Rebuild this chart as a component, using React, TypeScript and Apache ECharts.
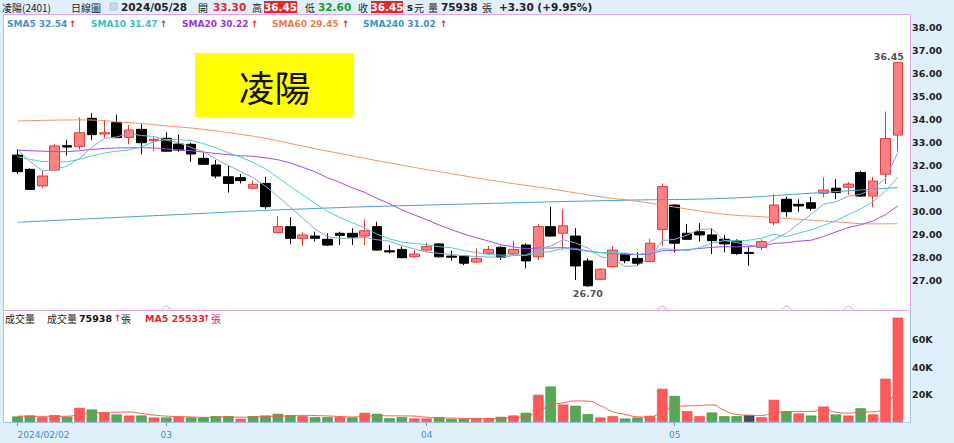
import React, { useEffect, useRef } from 'react';
import * as echarts from 'echarts';

const dates = [
  '2024/02/02','2024/02/05','2024/02/15','2024/02/16','2024/02/19','2024/02/20','2024/02/21','2024/02/22','2024/02/23','2024/02/26','2024/02/27','2024/02/29',
  '2024/03/01','2024/03/04','2024/03/05','2024/03/06','2024/03/07','2024/03/08','2024/03/11','2024/03/12','2024/03/13','2024/03/14','2024/03/15','2024/03/18','2024/03/19','2024/03/20','2024/03/21','2024/03/22','2024/03/25','2024/03/26','2024/03/27','2024/03/28','2024/03/29',
  '2024/04/01','2024/04/02','2024/04/03','2024/04/08','2024/04/09','2024/04/10','2024/04/11','2024/04/12','2024/04/15','2024/04/16','2024/04/17','2024/04/18','2024/04/19','2024/04/22','2024/04/23','2024/04/24','2024/04/25','2024/04/26','2024/04/29','2024/04/30',
  '2024/05/02','2024/05/03','2024/05/06','2024/05/07','2024/05/08','2024/05/09','2024/05/10','2024/05/13','2024/05/14','2024/05/15','2024/05/16','2024/05/17','2024/05/20','2024/05/21','2024/05/22','2024/05/23','2024/05/24','2024/05/27','2024/05/28'
];

const opens = [
  32.43, 31.81, 31.09, 31.78, 32.84, 32.80, 34.03, 33.35, 33.84, 33.20,
  33.55, 33.06, 33.16, 32.91, 32.90, 32.29, 32.00, 31.49, 31.45, 30.99,
  31.20, 29.06, 29.32, 28.81, 28.91, 28.77, 29.03, 29.03, 28.91, 29.32,
  28.27, 28.33, 28.01, 28.30, 28.57, 28.04, 28.04, 27.78, 28.16, 28.42,
  28.13, 28.52, 28.01, 29.32, 29.03, 28.91, 27.83, 27.03, 27.58, 28.13,
  27.94, 27.80, 29.20, 30.26, 29.03, 29.10, 28.96, 28.77, 28.70, 28.20,
  28.42, 29.49, 30.51, 30.29, 30.36, 30.77, 30.99, 31.03, 31.67, 30.65,
  31.60, 33.30
];
const closes = [
  31.71, 30.94, 31.52, 32.83, 32.78, 33.40, 33.32, 33.40, 33.19, 33.52,
  32.97, 33.12, 32.60, 32.65, 32.48, 32.03, 31.52, 31.20, 31.32, 31.16,
  30.19, 29.32, 28.81, 28.96, 28.81, 28.52, 28.94, 28.86, 29.14, 28.30,
  28.22, 27.97, 28.13, 28.45, 28.01, 27.99, 27.73, 27.93, 28.33, 27.99,
  28.33, 27.83, 29.32, 28.91, 29.36, 27.61, 26.75, 27.47, 28.30, 27.84,
  27.73, 28.60, 31.06, 28.60, 28.77, 28.96, 28.71, 28.57, 28.15, 28.15,
  28.67, 30.26, 29.97, 30.22, 30.12, 30.91, 30.80, 31.17, 30.65, 31.30,
  33.15, 36.45
];
const lows = [
  31.61, 30.91, 31.01, 31.75, 32.42, 32.68, 33.09, 33.19, 33.16, 32.90,
  32.47, 32.61, 32.58, 32.58, 32.14, 32.00, 31.42, 30.80, 31.20, 30.94,
  30.09, 29.03, 28.57, 28.48, 28.67, 28.48, 28.52, 28.52, 28.52, 28.27,
  28.16, 27.94, 27.97, 28.23, 27.97, 27.84, 27.65, 27.75, 28.13, 27.87,
  28.09, 27.51, 27.87, 28.88, 28.30, 27.00, 26.70, 27.00, 27.55, 27.73,
  27.62, 27.78, 28.49, 28.20, 28.74, 28.67, 28.13, 28.20, 28.09, 27.62,
  28.30, 29.38, 29.75, 29.97, 30.01, 30.60, 30.51, 30.70, 30.62, 30.16,
  31.17, 32.60
];
const highs = [
  32.68, 31.86, 31.75, 32.91, 33.09, 34.07, 34.25, 33.96, 34.19, 33.74,
  33.77, 33.20, 33.42, 33.32, 32.97, 32.53, 32.22, 31.96, 31.61, 31.32,
  31.49, 29.78, 29.73, 29.07, 29.10, 29.03, 29.10, 29.25, 29.64, 29.53,
  28.52, 28.45, 28.30, 28.62, 28.59, 28.27, 28.07, 28.38, 28.48, 28.48,
  28.70, 28.59, 29.42, 30.19, 30.09, 29.25, 27.94, 27.50, 28.48, 28.16,
  28.20, 28.78, 31.20, 30.29, 29.43, 29.47, 29.25, 28.96, 28.77, 28.42,
  28.77, 30.74, 30.62, 30.51, 30.62, 31.47, 31.38, 31.27, 31.75, 31.49,
  34.32, 36.45
];
const volumes = [
  4000, 4700, 3500, 4950, 3750, 10300, 9100, 6900, 5450, 4700,
  4700, 3270, 3270, 3750, 3270, 3270, 4240, 4240, 2300, 4240,
  4700, 5940, 4970, 4240, 3520, 3520, 3750, 3270, 6670, 5940,
  2790, 3520, 2540, 2540, 3520, 2300, 2300, 2540, 2540, 3750,
  4700, 6670, 19770, 25800, 12700, 11800, 5700, 3270, 4240, 2540,
  3270, 4480, 24100, 19000, 7880, 4240, 6900, 4240, 4240, 4970,
  3520, 16100, 7880, 6180, 4700, 11270, 5450, 4700, 10000, 5500,
  31500, 75938
];
const volMa5 = [
  4300, 4200, 4100, 4150, 4180, 5440, 6320, 7000, 7100, 7290,
  6170, 5004, 4278, 3938, 3652, 3366, 3560, 3754, 3464, 3658,
  3944, 4284, 4430, 4818, 4674, 4438, 4000, 3660, 4146, 4630,
  4484, 4438, 4292, 3466, 2982, 2884, 2640, 2640, 2640, 2686,
  3166, 4040, 7486, 12138, 13928, 15348, 15154, 11854, 7542, 5510,
  3804, 3560, 7726, 10678, 11746, 11940, 12424, 8452, 5500, 4918,
  4774, 6614, 7342, 7730, 7676, 9226, 7096, 6460, 7226, 7386,
  11426, 25533
];
const sma5 = [
  32.68, 32.15, 31.75, 31.80, 31.96, 32.29, 32.77, 33.15, 33.22, 33.37,
  33.28, 33.24, 33.08, 32.97, 32.76, 32.58, 32.26, 31.98, 31.71, 31.45,
  31.08, 30.64, 30.16, 29.69, 29.22, 28.88, 28.81, 28.82, 28.85, 28.75,
  28.69, 28.50, 28.35, 28.21, 28.16, 28.11, 28.06, 28.02, 28.00, 27.99,
  28.06, 28.08, 28.36, 28.48, 28.75, 28.61, 28.39, 28.02, 27.90, 27.59,
  27.62, 27.99, 28.71, 28.77, 28.95, 29.20, 29.22, 28.72, 28.63, 28.51,
  28.45, 28.76, 29.04, 29.45, 29.85, 30.30, 30.40, 30.64, 30.73, 30.97,
  31.42, 32.54
];
const sma10 = [
  32.36, 32.25, 32.15, 32.15, 32.14, 32.25, 32.40, 32.52, 32.60, 32.66,
  32.79, 33.01, 33.11, 33.10, 33.07, 32.93, 32.75, 32.53, 32.34, 32.11,
  31.83, 31.45, 31.07, 30.70, 30.33, 29.98, 29.72, 29.49, 29.27, 28.99,
  28.79, 28.65, 28.59, 28.53, 28.45, 28.40, 28.28, 28.19, 28.11, 28.08,
  28.09, 28.07, 28.19, 28.24, 28.37, 28.33, 28.24, 28.19, 28.19, 28.17,
  28.11, 28.19, 28.36, 28.33, 28.27, 28.41, 28.60, 28.71, 28.70, 28.73,
  28.82, 28.99, 28.88, 29.04, 29.18, 29.37, 29.58, 29.84, 30.09, 30.41,
  30.86, 31.47
];
const sma20 = [
  32.65, 32.62, 32.60, 32.58, 32.58, 32.62, 32.68, 32.72, 32.74, 32.75,
  32.75, 32.74, 32.70, 32.66, 32.62, 32.56, 32.50, 32.45, 32.40, 32.38,
  32.31, 32.23, 32.09, 31.90, 31.70, 31.45, 31.24, 31.01, 30.81, 30.55,
  30.31, 30.05, 29.83, 29.62, 29.39, 29.19, 29.00, 28.84, 28.69, 28.53,
  28.44, 28.36, 28.39, 28.39, 28.41, 28.37, 28.26, 28.19, 28.15, 28.12,
  28.10, 28.13, 28.28, 28.28, 28.32, 28.37, 28.42, 28.45, 28.44, 28.45,
  28.47, 28.59, 28.62, 28.69, 28.73, 28.89, 29.09, 29.28, 29.40, 29.57,
  29.84, 30.22
];
const sma60Pts = [
  [0, 33.91], [5, 33.96], [9, 33.84], [12, 33.70], [15, 33.55], [18, 33.33], [20, 33.16],
  [23, 32.82], [26, 32.50], [31, 31.99], [35, 31.62], [39, 31.27], [43, 30.96], [47, 30.62],
  [50, 30.42], [53, 30.17], [57, 29.86], [60, 29.75], [63, 29.64], [66, 29.53], [69, 29.44], [71, 29.45]
];
const sma240Pts = [
  [0, 29.51], [12, 29.82], [23, 30.09], [36, 30.30], [49, 30.47], [57, 30.55], [63, 30.74], [71, 31.02]
];
const axisLabelIdx = [0, 12, 33, 53];
const axisLabelText = ['2024/02/02', '03', '04', '05'];
const eventIdx = [12, 52, 62, 67];
const eventColors = ['#e3a0ea', '#e3a0ea', '#a8b8ee', '#a8b8ee'];
const stockName = '凌陽(2401)';
const stockTitle = '凌陽';

const F = '"DejaVu Sans", Verdana, sans-serif';
const CJK = '"Noto Sans CJK TC", "DejaVu Sans", sans-serif';
const RED = '#e5262b';
const GREEN = '#1f9a2a';
const PINK = '#e2a4ea';
const BLUEBORDER = '#9fc4e0';

function txt(text: string, x: number, y: number, o: any = {}) {
  return {
    type: 'text', x, y, z: 100, silent: true,
    style: {
      text, fill: o.fill || '#222', fontSize: o.size || 10, fontWeight: o.bold ? 'bold' : 'normal',
      fontFamily: o.family || F, verticalAlign: 'middle', textAlign: o.align || 'left',
    },
  };
}

export default function App() {
  const ref = useRef<HTMLDivElement>(null);
  useEffect(() => {
    const chart = echarts.init(ref.current!, null, { renderer: 'svg' });
    const n = dates.length;
    const last = n - 1;
    const candle = dates.map((_, i) => [opens[i], closes[i], lows[i], highs[i]]);
    let maxI = 0, minI = 0;
    for (let i = 0; i < n; i++) {
      if (highs[i] > highs[maxI]) maxI = i;
      if (lows[i] < lows[minI]) minI = i;
    }
    const volData = volumes.map((v, i) => {
      const ref0 = i === 0 ? opens[0] : closes[i - 1];
      const c = closes[i] > ref0 ? '#ff5a5a' : closes[i] < ref0 ? '#55a855' : '#4a4a4a';
      const b = closes[i] > ref0 ? '#e84848' : closes[i] < ref0 ? '#3f8f3f' : '#333';
      return { value: v, itemStyle: { color: c, borderColor: b, borderWidth: 0.6 } };
    });
    const chg = closes[last] - closes[last - 1];
    const pct = (chg / closes[last - 1]) * 100;
    const up = '↑';

    const graphic: any[] = [
      { type: 'rect', z: 0, silent: true, shape: { x: 3, y: 14, width: 907, height: 408 }, style: { fill: '#ffffff' } },
      { type: 'line', z: 1, silent: true, shape: { x1: 3, y1: 14.5, x2: 910.5, y2: 14.5 }, style: { stroke: PINK, lineWidth: 1 } },
      { type: 'line', z: 1, silent: true, shape: { x1: 3.5, y1: 14, x2: 3.5, y2: 422 }, style: { stroke: PINK, lineWidth: 1 } },
      { type: 'line', z: 1, silent: true, shape: { x1: 910.5, y1: 14, x2: 910.5, y2: 310 }, style: { stroke: PINK, lineWidth: 1 } },
      { type: 'line', z: 1, silent: true, shape: { x1: 3, y1: 310.5, x2: 910.5, y2: 310.5 }, style: { stroke: PINK, lineWidth: 1 } },
      { type: 'line', z: 1, silent: true, shape: { x1: 910.5, y1: 311, x2: 910.5, y2: 422 }, style: { stroke: BLUEBORDER, lineWidth: 1 } },
      { type: 'line', z: 1, silent: true, shape: { x1: 3, y1: 422.5, x2: 911, y2: 422.5 }, style: { stroke: BLUEBORDER, lineWidth: 1 } },
      { type: 'rect', z: 5, silent: true, shape: { x: 195, y: 53, width: 159, height: 64 }, style: { fill: '#ffff00' } },
      txt(stockTitle, 274.5, 86, { size: 36, family: CJK, fill: '#111', align: 'center' }),
      txt(stockName, 2, 7, { size: 10, family: CJK }),
      txt('日線圖', 71, 7, { size: 10, family: CJK }),
      { type: 'rect', z: 100, silent: true, shape: { x: 110, y: 3, width: 7, height: 7 }, style: { fill: '#c8dcee', stroke: '#a9c2da', lineWidth: 1 } },
      txt(dates[last], 121, 7, { bold: true, size: 10.5 }),
      txt('開', 198, 7, { size: 10, family: CJK }),
      txt(opens[last].toFixed(2), 213, 7, { bold: true, size: 10.5, fill: RED }),
      txt('高', 252, 7, { size: 10, family: CJK }),
      { type: 'rect', z: 99, silent: true, shape: { x: 264, y: 1, width: 33, height: 12 }, style: { fill: RED } },
      txt(highs[last].toFixed(2), 280.5, 7, { bold: true, size: 10.5, fill: '#fff', align: 'center' }),
      txt('低', 305, 7, { size: 10, family: CJK }),
      txt(lows[last].toFixed(2), 318, 7, { bold: true, size: 10.5, fill: GREEN }),
      txt('收', 358, 7, { size: 10, family: CJK }),
      { type: 'rect', z: 99, silent: true, shape: { x: 371, y: 1, width: 32, height: 12 }, style: { fill: RED } },
      txt(closes[last].toFixed(2), 387, 7, { bold: true, size: 10.5, fill: '#fff', align: 'center' }),
      txt('s', 407, 7, { bold: true, size: 10 }),
      txt('元', 414, 7, { size: 10, family: CJK }),
      txt('量', 428, 7, { size: 10, family: CJK }),
      txt(String(volumes[last]), 441, 7, { bold: true, size: 10.5 }),
      txt('張', 482, 7, { size: 10, family: CJK }),
      txt('+' + chg.toFixed(2) + ' (+' + pct.toFixed(2) + '%)', 499, 7, { bold: true, size: 10.5 }),
      txt('SMA5 ' + sma5[last].toFixed(2), 7, 24, { bold: true, size: 9, fill: '#4a8fd4' }),
      txt(up, 69, 24, { bold: true, size: 9, fill: RED }),
      txt('SMA10 ' + sma10[last].toFixed(2), 91, 24, { bold: true, size: 9, fill: '#2ec2c6' }),
      txt(up, 160, 24, { bold: true, size: 9, fill: RED }),
      txt('SMA20 ' + sma20[last].toFixed(2), 182, 24, { bold: true, size: 9, fill: '#9a35e0' }),
      txt(up, 251, 24, { bold: true, size: 9, fill: RED }),
      txt('SMA60 ' + sma60Pts[sma60Pts.length - 1][1].toFixed(2), 272, 24, { bold: true, size: 9, fill: '#f07a45' }),
      txt(up, 342, 24, { bold: true, size: 9, fill: RED }),
      txt('SMA240 ' + sma240Pts[sma240Pts.length - 1][1].toFixed(2), 363, 24, { bold: true, size: 9, fill: '#3a92cc' }),
      txt(up, 440, 24, { bold: true, size: 9, fill: RED }),
      txt('成交量', 5, 318, { size: 10, family: CJK }),
      txt('成交量', 47, 318, { size: 10, family: CJK }),
      txt(String(volumes[last]), 79, 318, { bold: true, size: 9.5, fill: '#111' }),
      txt(up, 114, 318, { bold: true, size: 9, fill: RED }),
      txt('張', 121, 318, { size: 10, family: CJK }),
      txt('MA5 ' + volMa5[last], 145, 318, { bold: true, size: 9.5, fill: RED }),
      txt(up, 203, 318, { bold: true, size: 9, fill: RED }),
      txt('張', 211, 318, { size: 10, family: CJK, fill: RED }),
    ];

    const lineS = (name: string, data: any[], color: string, smooth = false, w = 1) => ({
      name, type: 'line', xAxisIndex: 0, yAxisIndex: 0, data, showSymbol: false, symbol: 'none',
      smooth, clip: false, z: 4, lineStyle: { color, width: w }, itemStyle: { color },
    });

    const isLabel = (i: number) => axisLabelIdx.indexOf(i) >= 0;
    const extLabel = { show: true, color: '#222', fontWeight: 'bold', fontSize: 9.5, fontFamily: F, formatter: (p: any) => Number(p.value[1]).toFixed(2) };

    const option: any = {
      animation: false,
      backgroundColor: '#dff0fb',
      textStyle: { fontFamily: F },
      graphic,
      grid: [
        { left: 11.3, right: 49.9, top: 27, height: 253 },
        { left: 11.3, right: 49.9, top: 312, height: 110 },
      ],
      xAxis: [
        { type: 'category', gridIndex: 0, data: dates, boundaryGap: true, show: false },
        {
          type: 'category', gridIndex: 1, data: dates, boundaryGap: true,
          axisLine: { show: false },
          axisTick: { show: true, alignWithLabel: true, length: 4, interval: (i: number) => isLabel(i), lineStyle: { color: '#4f9bd9' } },
          axisLabel: {
            interval: (i: number) => isLabel(i),
            formatter: (_v: string, i: number) => (isLabel(i) ? axisLabelText[axisLabelIdx.indexOf(i)] : ''),
            color: '#3b8ed3', fontSize: 9, margin: 8, fontFamily: F, alignMinLabel: 'left',
          },
          splitLine: { show: false },
        },
      ],
      yAxis: [
        {
          type: 'value', gridIndex: 0, position: 'right', min: 27, max: 38, interval: 1,
          axisLine: { show: false }, axisTick: { show: false }, splitLine: { show: false },
          axisLabel: { formatter: (v: number) => v.toFixed(2), color: '#222', fontWeight: 'bold', fontSize: 9.5, margin: 8, fontFamily: F },
        },
        {
          type: 'value', gridIndex: 1, position: 'right', min: 0, max: 80000, interval: 20000,
          axisLine: { show: false }, axisTick: { show: false }, splitLine: { show: false },
          axisLabel: { formatter: (v: number) => (v > 0 && v < 80000 ? v / 1000 + 'K' : ''), color: '#222', fontWeight: 'bold', fontSize: 9.5, margin: 8, fontFamily: F },
        },
      ],
      series: [
        {
          name: 'K', type: 'candlestick', xAxisIndex: 0, yAxisIndex: 0, data: candle, barWidth: 10, clip: false, z: 3,
          itemStyle: { color: '#ff8080', color0: '#000000', borderColor: '#e4383d', borderColor0: '#000000', borderWidth: 1 },
        },
        lineS('SMA240', sma240Pts, '#4aa0d0', true),
        lineS('SMA60', sma60Pts, '#f2906a', true),
        lineS('SMA20', sma20, '#a44ae6'),
        lineS('SMA10', sma10, '#4ccfd0'),
        lineS('SMA5', sma5, '#86a9d6'),
        {
          name: 'extremes', type: 'scatter', xAxisIndex: 0, yAxisIndex: 0, clip: false, z: 6,
          symbol: 'circle', symbolSize: 1, itemStyle: { color: 'rgba(0,0,0,0)' },
          data: [
            { value: [maxI, highs[maxI]], label: { ...extLabel, position: 'top', distance: 1, offset: [-9, 0] } },
            { value: [minI, lows[minI]], label: { ...extLabel, position: 'bottom', distance: 1 } },
          ],
        },
        {
          name: 'events', type: 'scatter', xAxisIndex: 0, yAxisIndex: 0, clip: false, z: 5,
          symbol: 'path://M0,6 L6,0 L12,6', symbolSize: [10, 4],
          data: eventIdx.map((i, k) => ({ value: [i, 25.8], itemStyle: { color: 'none', borderColor: eventColors[k], borderWidth: 1 } })),
        },
        { name: 'VOL', type: 'bar', xAxisIndex: 1, yAxisIndex: 1, data: volData, barWidth: 10.5, z: 3 },
        {
          name: 'VMA5', type: 'line', xAxisIndex: 1, yAxisIndex: 1, data: volMa5, smooth: true, showSymbol: false, symbol: 'none', z: 4,
          lineStyle: { color: '#f05a5a', width: 1 },
        },
      ],
    };
    chart.setOption(option);
    return () => chart.dispose();
  }, []);
  return <div ref={ref} style={{ position: 'absolute', left: 0, top: 0, width: 954, height: 443 }} />;
}
